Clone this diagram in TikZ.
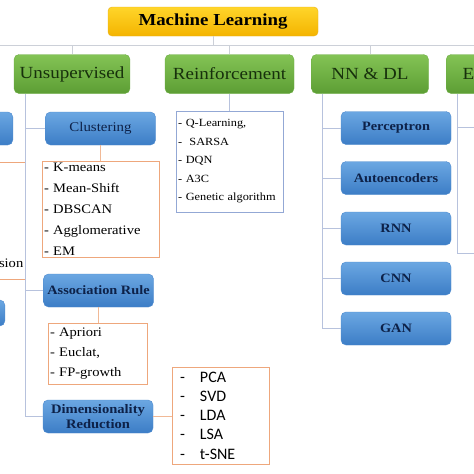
\documentclass[tikz,border=0pt]{standalone}
\usepackage{fontspec}
\setmainfont{Liberation Serif}[FakeStretch=1.12]
\newfontfamily\carlito{Carlito}
\usepackage{tikz}
\usetikzlibrary{calc,positioning}
\definecolor{ylwtop}{HTML}{FFD52A}
\definecolor{ylwbot}{HTML}{F4B400}
\definecolor{ylwline}{HTML}{E9B21A}
\definecolor{grntop}{HTML}{84C455}
\definecolor{grnbot}{HTML}{5C9D34}
\definecolor{grnline}{HTML}{6DAE44}
\definecolor{grntxt}{HTML}{17300C}
\definecolor{bluetop}{HTML}{6BA7E2}
\definecolor{bluebot}{HTML}{3C7DC6}
\definecolor{blueline}{HTML}{4F8BCF}
\definecolor{bluetxt}{HTML}{0D2148}
\definecolor{trunkc}{HTML}{CCD0D8}
\definecolor{spinec}{HTML}{B7C2DD}
\definecolor{orgc}{HTML}{EEA77C}
\definecolor{lstblue}{HTML}{93A8D5}
\begin{document}
\begin{tikzpicture}[x=1pt,y=1pt,
  root/.style={draw=ylwline, top color=ylwtop, bottom color=ylwbot, rounded corners=4pt,
               font=\bfseries\fontsize{16.8}{20}\selectfont, minimum width=210pt, minimum height=29pt, inner sep=0pt},
  cat/.style={draw=grnline, top color=grntop, bottom color=grnbot, rounded corners=5pt, text=grntxt,
              font=\fontsize{17}{20}\selectfont, minimum height=39pt, inner sep=0pt},
  sub/.style={draw=blueline, top color=bluetop, bottom color=bluebot, rounded corners=5pt, text=bluetxt,
              font=\bfseries\fontsize{12.8}{15}\selectfont, minimum width=110pt, minimum height=33pt,
              align=center, inner sep=0pt},
  lst/.style={draw=orgc, fill=white, align=left, inner xsep=2pt, inner ysep=0pt},
  trunk/.style={draw=trunkc, line width=0.9pt},
  spine/.style={draw=spinec, line width=0.9pt},
  link/.style={draw=orgc!80, line width=0.9pt},
]
\useasboundingbox (0,0) rectangle (474,-474);
\clip (0,0) rectangle (474,-474);
\fill[white] (0,0) rectangle (474,-474);
% top level
\node[root] (ml) at (213,-21.5) {Machine Learning};
\coordinate (tl) at (0,-45.5);
\coordinate (tr) at (474,-45.5);
\node[cat, minimum width=116pt] (uns) at (72,-74) {Unsupervised};
\node[cat, minimum width=129pt] (rei) at (229.5,-74) {Reinforcement};
\node[cat, minimum width=117pt] (nnd) at (370,-74) {NN \& DL};
\node[cat, minimum width=117pt, anchor=west] (ens) at (446,-74) {};
\node[text=grntxt, font=\fontsize{17}{20}\selectfont, anchor=west, inner sep=0pt] (enst) at (462.5,-74) {E};
\draw[trunk] (tl) -- (tr);
\draw[trunk] (ml.south) -- (ml.south |- tl);
\foreach \n in {uns,rei,nnd,ens} \draw[trunk] (\n.north) -- (\n.north |- tl);
% supervised column (cut off)
\node[sub, anchor=east] (sbox) at (13,-128.5) {};
\node[lst, anchor=north east, minimum width=120pt, minimum height=117pt] (slist) at (25,-162) {};
\node[font=\fontsize{13}{15}\selectfont, anchor=east, inner sep=0pt] (stxt) at (23.5,-263) {sion};
\node[sub, anchor=east, minimum height=26pt] (sbox2) at (5,-313) {};
% unsupervised column
\node[sub, font=\fontsize{13.3}{15}\selectfont] (clu) at (100.5,-128.5) {Clustering};
\node[lst, text width=113pt, minimum height=96pt, font=\fontsize{13}{21}\selectfont] (clulist) at (100.5,-209)
  {- K-means\\- Mean-Shift\\- DBSCAN\\- Agglomerative\\- EM};
\node[sub] (asr) at (98.5,-290.5) {Association Rule};
\node[lst, text width=95pt, minimum height=61pt, font=\fontsize{13}{20}\selectfont] (asrlist) at (97.5,-353.5)
  {- Apriori\\- Euclat,\\- FP-growth};
\node[sub, font=\bfseries\fontsize{13}{15}\selectfont] (dim) at (98,-416.5) {Dimensionality\\Reduction};
\node[lst, text width=81pt, inner xsep=8pt, minimum height=97pt, font=\carlito\fontsize{16}{19.3}\selectfont] (dimlist) at (220.5,-415.5)
  {\makebox[20pt][l]{-}PCA\\\makebox[20pt][l]{-}SVD\\\makebox[20pt][l]{-}LDA\\\makebox[20pt][l]{-}LSA\\\makebox[20pt][l]{-}t-SNE};
\coordinate (uspine) at ($(uns.south west)+(12,0)$);
\draw[spine] (uspine) |- (dim.west);
\foreach \b in {clu,asr} \draw[spine] (uspine |- \b.west) -- (\b.west);
\draw[link] (clu.south) -- (clulist.north);
\draw[link] (asr.south) -- (asr.south |- asrlist.north);
\draw[link] (dim.east) -- (dim.east -| dimlist.west);
% reinforcement
\node[lst, draw=lstblue, text width=103pt, minimum height=101pt, font=\fontsize{11}{18.5}\selectfont] (reilist) at (229.5,-161.5)
  {- Q-Learning,\\-\ \ SARSA\\- DQN\\- A3C\\- Genetic algorithm};
\draw[spine] (rei.south) -- (reilist.north);
% neural networks
\node[sub] (per) at (396,-128) {Perceptron};
\node[sub] (aut) at (396,-178) {Autoencoders};
\node[sub] (rnn) at (396,-228.5) {RNN};
\node[sub] (cnn) at (396,-278.5) {CNN};
\node[sub] (gan) at (396,-328.5) {GAN};
\coordinate (nspine) at ($(nnd.south west)+(11,0)$);
\draw[spine] (nspine) |- (gan.west);
\foreach \b in {per,aut,rnn,cnn} \draw[spine] (nspine |- \b.west) -- (\b.west);
% right column (cut off)
\coordinate (espine) at ($(ens.south west)+(11,0)$);
\coordinate (eend) at (474,-253);
\coordinate (ebr) at (474,-127);
\draw[spine] (espine) |- (eend);
\draw[spine] (espine |- ebr) -- (ebr);
\end{tikzpicture}
\end{document}
